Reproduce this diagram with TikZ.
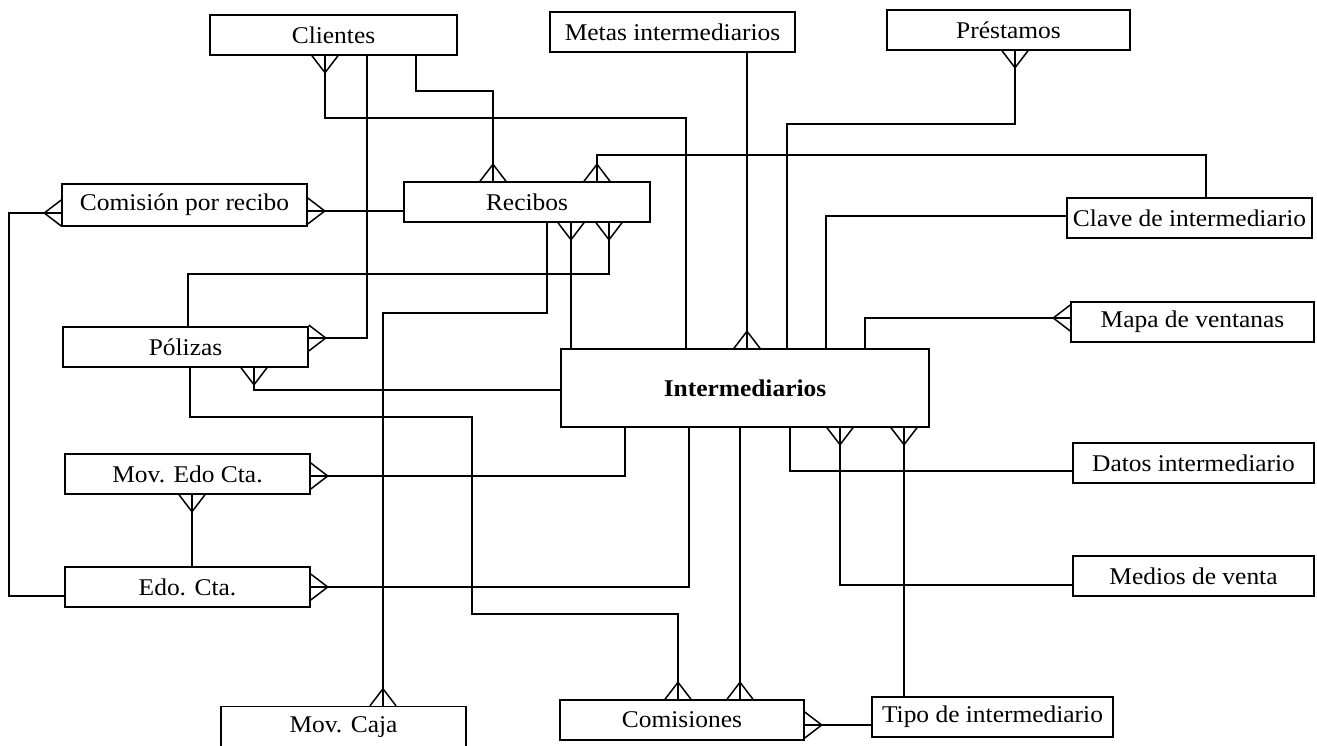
\documentclass[tikz,border=0pt]{standalone}
\usepackage{fontspec}
\setmainfont{Liberation Serif}[FakeStretch=1.06]
\usetikzlibrary{arrows.meta}

% Crow's foot: three prongs meeting 17pt from the entity border
\pgfdeclarearrow{
  name = Crow,
  setup code = {
    \pgfarrowssettipend{0pt}
    \pgfarrowssetlineend{0pt}
    \pgfarrowssetbackend{-17pt}
    \pgfarrowssetvisualbackend{-17pt}
    \pgfarrowshullpoint{0pt}{13pt}
    \pgfarrowshullpoint{0pt}{-13pt}
    \pgfarrowshullpoint{-17pt}{0pt}
  },
  drawing code = {
    \pgfsetdash{}{0pt}
    \pgfsetroundjoin
    \pgfpathmoveto{\pgfqpoint{0pt}{13pt}}
    \pgfpathlineto{\pgfqpoint{-17pt}{0pt}}
    \pgfpathlineto{\pgfqpoint{0pt}{-13pt}}
    \pgfusepathqstroke
  }
}

\tikzset{
  ent/.style={draw, line width=1.5pt, fill=white, minimum width=245pt,
    minimum height=40pt, inner sep=0pt,
    font=\fontsize{24}{27}\selectfont},
  link/.style={line width=1.5pt},
}

\begin{document}
\begin{tikzpicture}[x=1pt, y=-1pt]
\useasboundingbox (0,0) rectangle (1317,745);
\fill[white] (0,0) rectangle (1317,745);

% entities
\node[ent, minimum width=247pt] (clientes) at (333.5,35) {Clientes};
\node[ent] (metas) at (672.5,32) {Metas intermediarios};
\node[ent, minimum width=243pt] (prestamos) at (1008.5,30) {Préstamos};
\node[ent, minimum height=42pt] (comrec) at (184.5,205) {Comisión por recibo};
\node[ent, minimum width=246pt] (recibos) at (527,202) {Recibos};
\node[ent] (clave) at (1189.5,218) {Clave de intermediario};
\node[ent, minimum width=243pt] (mapa) at (1192.5,322) {Mapa de ventanas};
\node[ent] (polizas) at (185.5,347) {Pólizas};
\node[ent, minimum width=368pt, minimum height=78pt,
  font=\fontsize{24}{27}\selectfont\bfseries] (inter) at (745,388) {Intermediarios};
\node[ent] (movedo) at (187.5,474) {Mov. Edo Cta.};
\node[ent] (edocta) at (187.5,587) {Edo. Cta.};
\node[ent, minimum width=241pt] (datos) at (1193.5,463) {Datos intermediario};
\node[ent, minimum width=241pt] (medios) at (1193.5,576) {Medios de venta};
\node[ent, minimum height=41pt] (movcaja) at (343.5,727) {Mov. Caja};
\node[ent, minimum width=244pt] (comisiones) at (682,720) {Comisiones};
\node[ent, minimum width=241pt] (tipo) at (992.5,717) {Tipo de intermediario};

% relationships
\begin{scope}[link]
  % Clientes
  \draw[{Crow}-] (325,0 |- clientes.south) -- (325,118) -- (686,118) -- (686,0 |- inter.north);
  \draw[-{Crow}] (416,0 |- clientes.south) -- (416,91) -- (493,91) -- (493,0 |- recibos.north);
  \draw[-{Crow}] (367,0 |- clientes.south) -- (367,338) -- (polizas.east |- 0,338);
  % Comisión por recibo
  \draw[{Crow}-] (comrec.east |- 0,211) -- (recibos.west |- 0,211);
  \draw[{Crow}-] (comrec.west |- 0,213) -- (9,213) -- (9,596) -- (edocta.west |- 0,596);
  % Recibos
  \draw[{Crow}-] (609,0 |- recibos.south) -- (609,274) -- (188,274) -- (188,0 |- polizas.north);
  \draw[-{Crow}] (547,0 |- recibos.south) -- (547,313) -- (383,313) -- (383,0 |- movcaja.north);
  \draw[{Crow}-] (571,0 |- recibos.south) -- (571,0 |- inter.north);
  \draw[{Crow}-] (597,0 |- recibos.north) -- (597,155) -- (1206,155) -- (1206,0 |- clave.north);
  % upper side of Intermediarios
  \draw[-{Crow}] (747,0 |- metas.south) -- (747,0 |- inter.north);
  \draw[{Crow}-] (1015,0 |- prestamos.south) -- (1015,124) -- (787,124) -- (787,0 |- inter.north);
  \draw (clave.west |- 0,216) -- (826,216) -- (826,0 |- inter.north);
  \draw[{Crow}-] (mapa.west |- 0,318) -- (865,318) -- (865,0 |- inter.north);
  % Pólizas
  \draw[{Crow}-] (254,0 |- polizas.south) -- (254,390) -- (inter.west |- 0,390);
  \draw[-{Crow}] (190,0 |- polizas.south) -- (190,417) -- (472,417) -- (472,614) -- (678,614) -- (678,0 |- comisiones.north);
  % lower side of Intermediarios
  \draw[-{Crow}] (625,0 |- inter.south) -- (625,476) -- (movedo.east |- 0,476);
  \draw[-{Crow}] (689,0 |- inter.south) -- (689,587) -- (edocta.east |- 0,587);
  \draw[-{Crow}] (740,0 |- inter.south) -- (740,0 |- comisiones.north);
  \draw (790,0 |- inter.south) -- (790,471) -- (datos.west |- 0,471);
  \draw[{Crow}-] (840,0 |- inter.south) -- (840,585) -- (medios.west |- 0,585);
  \draw[{Crow}-] (904,0 |- inter.south) -- (904,0 |- tipo.north);
  % remaining pairs
  \draw[{Crow}-] (comisiones.east |- 0,725) -- (tipo.west |- 0,725);
  \draw[{Crow}-] (192,0 |- movedo.south) -- (192,0 |- edocta.north);
\end{scope}
\end{tikzpicture}
\end{document}
